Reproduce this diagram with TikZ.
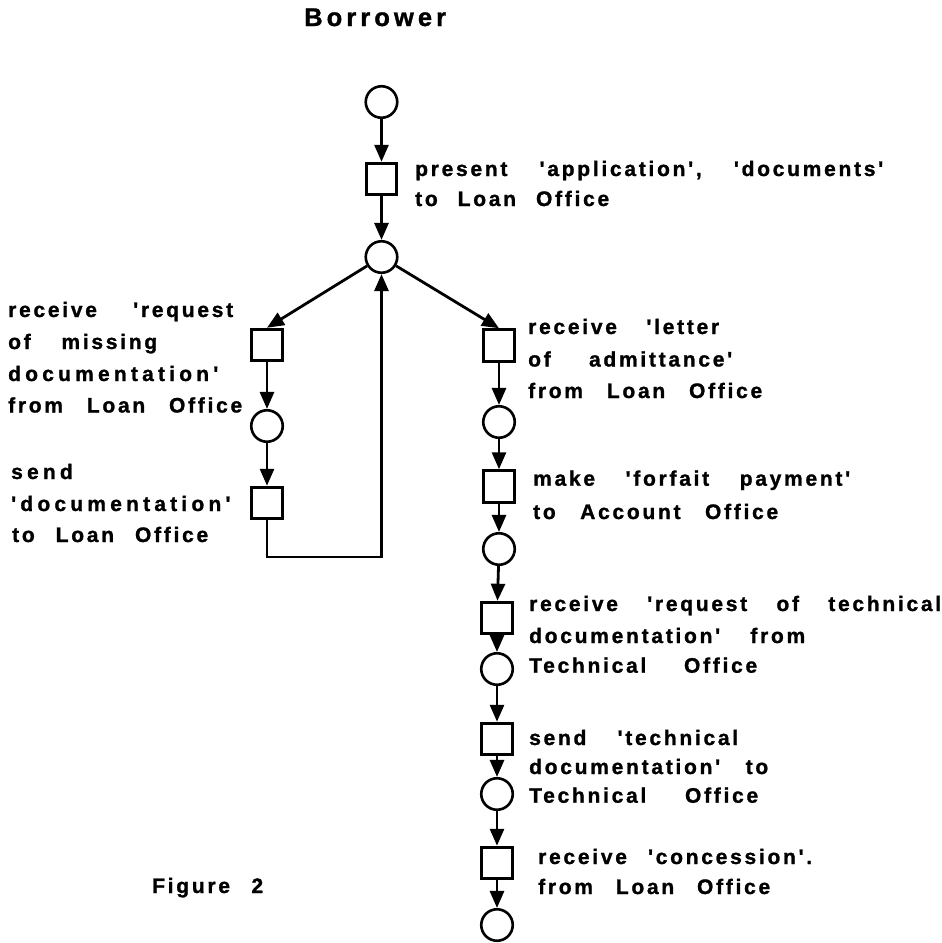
\documentclass[tikz,border=0pt]{standalone}
\usepackage{fontspec}
\newfontfamily\lblfont{Liberation Sans}[UprightFont={* Bold},LetterSpace=13,FakeBold=1.2,Ligatures=TeXOff]
\newfontfamily\titlefont{Liberation Sans}[UprightFont={* Bold},LetterSpace=16,FakeBold=1.2,Ligatures=TeXOff]
\usetikzlibrary{arrows.meta}
% one line of a label, spread to a given width
\newcommand\spreadline[2]{\makebox[#1][s]{\frenchspacing#2}}
% a single word set with wider tracking
\newcommand\wideword[1]{{\addfontfeature{LetterSpace=20}#1}}
\begin{document}
\begin{tikzpicture}[x=1pt,y=-1pt,
  place/.style={draw, circle, line width=2.6pt, minimum size=31.5pt, inner sep=0pt},
  trans/.style={draw, rectangle, line width=3pt, minimum width=30.5pt, minimum height=31.5pt, inner sep=0pt},
  arr/.style={line width=2.8pt, -{Triangle[length=17pt,width=14pt]}},
  lbl/.style={anchor=base west, inner sep=0pt, font=\lblfont\fontsize{21}{25}\selectfont},
  title/.style={anchor=base west, inner sep=0pt, font=\titlefont\fontsize{25.5}{29}\selectfont},
]
\useasboundingbox[fill=white] (0,0) rectangle (942,943);

% title and caption
\node[title] (title) at (304,26) {Borrower};
\node[lbl] (caption) at (152,893) {\spreadline{111pt}{Figure 2}};

% places and transitions of the net
\node[place] (p0) at (381.5,102) {};
\node[trans] (t0) at (381.5,179) {};
\node[place] (p1) at (381.5,257) {};

\node[trans] (tL1) at (267,345) {};
\node[place] (pL1) at (267,426) {};
\node[trans] (tL2) at (267,503) {};

\node[trans] (tR1) at (499,345.5) {};
\node[place] (pR1) at (499,422) {};
\node[trans] (tR2) at (499,486.5) {};
\node[place] (pR2) at (499,549) {};
\node[trans] (tR3) at (497,618) {};
\node[place] (pR3) at (497,669) {};
\node[trans] (tR4) at (497,739) {};
\node[place] (pR4) at (497,794) {};
\node[trans] (tR5) at (497,863) {};
\node[place] (pR5) at (497,925) {};

% arcs
\draw[arr] (p0) -- (t0);
\draw[arr] (t0) -- (p1);
\draw[arr] (p1) -- (tL1.north);
\draw[arr] (p1) -- (tR1.north);
\draw[arr] (tL1) -- (pL1);
\draw[arr] (pL1) -- (tL2);
\coordinate (loopcorner) at (381.5,557);
\draw[arr] (tL2.south) |- (loopcorner) -- (p1.south);
\draw[arr] (tR1) -- (pR1);
\draw[arr] (pR1) -- (tR2);
\draw[arr] (tR2) -- (pR2);
\draw[arr] (pR2) -- (tR3);
\draw[arr] (tR3) -- (pR3);
\draw[arr] (pR3) -- (tR4);
\draw[arr] (tR4) -- (pR4);
\draw[arr] (pR4) -- (tR5);
\draw[arr] (tR5) -- (pR5);

% transition labels
\node[lbl] (a1) at (415,176) {\spreadline{468pt}{present 'application', 'documents'}};
\node[lbl] (a2) at (415,206) {\spreadline{194pt}{to Loan Office}};

\node[lbl] (b1) at (8,317) {\spreadline{225pt}{receive 'request}};
\node[lbl] (b2) at (8,349) {\spreadline{149pt}{of missing}};
\node[lbl] (b3) at (8,381) {\wideword{documentation'}};
\node[lbl] (b4) at (8,412.5) {\spreadline{234pt}{from Loan Office}};

\node[lbl] (c1) at (11,479) {\wideword{send}};
\node[lbl] (c2) at (11,511) {\wideword{'documentation'}};
\node[lbl] (c3) at (12,542) {\spreadline{196pt}{to Loan Office}};

\node[lbl] (d1) at (528,334) {\spreadline{191pt}{receive 'letter}};
\node[lbl] (d2) at (528,366.5) {\spreadline{204pt}{of admittance'}};
\node[lbl] (d3) at (528,398) {\spreadline{234pt}{from Loan Office}};

\node[lbl] (e1) at (533,485.7) {\spreadline{317pt}{make 'forfait payment'}};
\node[lbl] (e2) at (533,519) {\spreadline{245pt}{to Account Office}};

\node[lbl] (f1) at (529,611) {\spreadline{412pt}{receive 'request of technical}};
\node[lbl] (f2) at (529,643) {\spreadline{276pt}{documentation' from}};
\node[lbl] (f3) at (529,672.7) {\spreadline{228pt}{Technical Office}};

\node[lbl] (g1) at (529,745) {\spreadline{209pt}{send 'technical}};
\node[lbl] (g2) at (529,774) {\spreadline{239pt}{documentation' to}};
\node[lbl] (g3) at (529,802.7) {\spreadline{229pt}{Technical Office}};

\node[lbl] (h1) at (538,864) {\spreadline{274pt}{receive 'concession'.}};
\node[lbl] (h2) at (538,894) {\spreadline{232pt}{from Loan Office}};
\end{tikzpicture}
\end{document}
